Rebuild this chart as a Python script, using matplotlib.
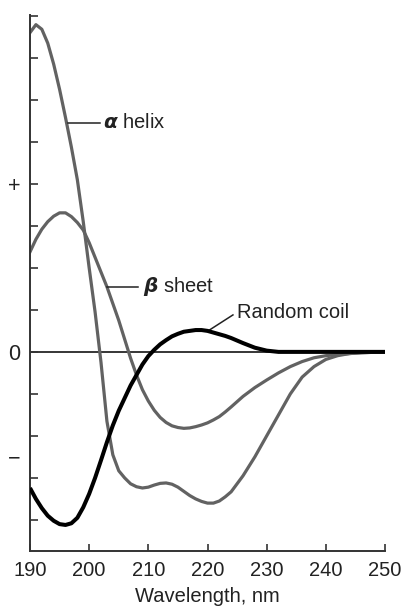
import matplotlib.pyplot as plt
import numpy as np

plt.rcParams['font.family'] = ['Liberation Sans', 'DejaVu Sans']

# wavelength grid (nm) the curves were read at
wavelength = list(range(190, 225)) + list(range(226, 251, 2))

# mean residue ellipticity, arbitrary units
alpha_helix = [7.6, 7.79, 7.68, 7.35, 6.85, 6.25, 5.58, 4.87, 4.1, 3.1,
               2.0, 0.95, -0.25, -1.65, -2.45, -2.83, -3.0, -3.14, -3.21, -3.24,
               -3.22, -3.17, -3.13, -3.12, -3.15, -3.22, -3.32, -3.42, -3.5, -3.56,
               -3.6, -3.6, -3.55, -3.45, -3.33,
               -2.95, -2.5, -2.0, -1.5, -1.0, -0.6, -0.35, -0.18, -0.09, -0.04,
               -0.02, -0.01, 0.0]
beta_sheet = [2.38, 2.68, 2.92, 3.1, 3.23, 3.31, 3.31, 3.22, 3.08, 2.9,
              2.6, 2.25, 1.9, 1.55, 1.15, 0.75, 0.3, -0.15, -0.55, -0.9,
              -1.17, -1.39, -1.56, -1.68, -1.76, -1.8, -1.82, -1.81, -1.78, -1.74,
              -1.69, -1.62, -1.54, -1.43, -1.31,
              -1.06, -0.85, -0.67, -0.5, -0.35, -0.23, -0.14, -0.09, -0.06, -0.04,
              -0.02, -0.01, 0.0]
random_coil = [-3.24, -3.5, -3.72, -3.9, -4.02, -4.1, -4.12, -4.08, -3.95, -3.7,
               -3.38, -3.0, -2.58, -2.15, -1.75, -1.4, -1.1, -0.8, -0.55, -0.3,
               -0.1, 0.05, 0.18, 0.28, 0.37, 0.43, 0.48, 0.5, 0.52, 0.52,
               0.5, 0.46, 0.42, 0.38, 0.33,
               0.21, 0.1, 0.03, 0.0, 0.0, 0.0, 0.0, 0.0, 0.0, 0.0,
               0.0, 0.0, 0.0]

x_ticks = [190, 200, 210, 220, 230, 240, 250]
y_ticks = list(range(-4, 9))
y_label_pos = [4, 0, -2.5]
y_label_text = ['+', '0', '\u2212']

# curve labels: (text, leader start, leader end, text anchor)
labels = [
    (r'$\boldsymbol{\alpha}$ helix', (196.4, 5.45), (201.8, 5.45), (202.3, 5.45)),
    (r'$\boldsymbol{\beta}$ sheet', (203.0, 1.55), (208.2, 1.55), (209.1, 1.55)),
    ('Random coil', (220.1, 0.5), (224.3, 0.88), (225.0, 0.93)),
]

gray = '#626262'
ink = '#222222'

fig = plt.figure(figsize=(4.01, 6.08), dpi=100)
ax = fig.add_axes([30 / 401, 57 / 608, 355 / 401, 536 / 608])

ax.axhline(0, color='black', lw=1.1, zorder=1)
ax.plot(wavelength, alpha_helix, color=gray, lw=2.3, solid_joinstyle='round', zorder=2)
ax.plot(wavelength, beta_sheet, color=gray, lw=2.3, solid_joinstyle='round', zorder=2)
ax.plot(wavelength, random_coil, color='black', lw=2.9, solid_joinstyle='round',
        solid_capstyle='butt', zorder=3)

for text, p0, p1, pt in labels:
    ax.plot([p0[0], p1[0]], [p0[1], p1[1]], color=ink, lw=1.1)
    ax.text(pt[0], pt[1], text, fontsize=14.5, color=ink, ha='left', va='center')

ax.set_xlim(190, 250)
ax.set_ylim(-4.74, 8.02)

for side in ['top', 'right']:
    ax.spines[side].set_visible(False)
for side in ['left', 'bottom']:
    ax.spines[side].set_linewidth(1.4)
    ax.spines[side].set_color('#333333')

ax.set_xticks(x_ticks)
ax.set_xticklabels([str(t) for t in x_ticks], fontsize=14.5, color=ink)
ax.tick_params(axis='x', direction='in', length=5, width=1.2, color='#333333', pad=7)

ax.set_yticks(y_ticks)
ax.set_yticklabels([])
ax.tick_params(axis='y', which='major', direction='in', length=6, width=1.2, color='#333333')
ax.yaxis.remove_overlapping_locs = False
ax.set_yticks(y_label_pos, y_label_text, minor=True)
ax.tick_params(axis='y', which='minor', length=0, pad=7, labelsize=15.5, labelcolor=ink)

ax.set_xlabel('Wavelength, nm', fontsize=14.5, color=ink, labelpad=5)

fig.savefig('out.png', dpi=100, facecolor='white')
